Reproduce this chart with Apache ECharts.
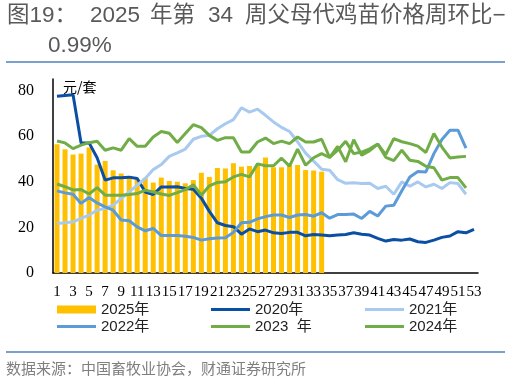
<!DOCTYPE html>
<html><head><meta charset="utf-8">
<script src="https://cdn.jsdelivr.net/npm/echarts@6/dist/echarts.min.js"></script>
<style>html,body{margin:0;padding:0;background:#fff}#c{width:510px;height:383px}</style>
</head><body><div id="c"></div>
<script>
const weeks = ['1','2','3','4','5','6','7','8','9','10','11','12','13','14','15','16','17','18','19','20','21','22','23','24','25','26','27','28','29','30','31','32','33','34','35','36','37','38','39','40','41','42','43','44','45','46','47','48','49','50','51','52','53'];
const y2025 = [56.4,54.2,51.9,52.3,55.0,47.5,49.1,45.0,43.6,41.7,41.0,41.7,39.6,41.8,40.3,40.0,39.3,40.7,43.9,42.1,46.0,45.8,48.1,46.6,46.9,47.3,50.6,46.3,46.3,47.4,47.3,45.1,44.9,44.4];
const y2020 = [77.4,77.8,78.1,57.0,57.0,50.5,40.7,41.7,41.7,42.0,41.4,35.5,34.4,37.7,37.7,37.8,37.0,36.7,32.8,27.0,22.0,20.8,20.3,17.0,19.3,18.1,18.8,17.6,17.3,17.8,17.8,16.3,16.9,16.6,16.3,16.6,16.9,17.6,17.0,16.6,15.2,14.0,14.7,14.4,14.9,13.7,13.4,14.4,15.6,16.2,18.1,17.6,19.1];
const y2021 = [21.7,22.0,22.4,23.9,25.4,27.5,28.3,29.7,32.6,35.5,38.5,41.4,45.3,47.5,51.1,52.6,54.3,58.6,59.9,60.3,63.2,65.4,67.2,72.4,70.5,71.8,69.1,66.2,63.8,62.0,57.5,52.5,49.0,45.5,45.0,40.9,39.3,39.5,39.2,39.3,37.0,38.0,34.5,39.9,38.0,39.9,37.7,38.9,37.0,39.6,39.2,34.5,null];
const y2022 = [36.0,35.1,34.5,30.5,33.1,30.7,29.0,27.5,23.2,22.9,20.2,18.5,19.5,16.4,16.4,16.4,16.1,15.6,14.4,15.0,15.3,15.4,17.8,22.0,22.2,23.7,24.7,25.4,25.4,24.3,25.4,25.6,24.9,26.4,24.0,25.6,25.6,25.8,23.9,27.0,25.0,29.3,29.7,36.0,42.1,44.5,44.3,52.3,58.5,62.5,62.6,54.7,null];
const y2023 = [57.8,57.0,54.5,56.0,57.1,57.7,53.8,54.8,53.8,58.9,55.5,55.5,59.6,62.0,61.2,57.2,61.1,65.0,63.7,60.3,58.1,59.3,59.3,53.0,53.0,57.4,59.1,56.7,57.8,56.7,59.6,57.4,57.4,58.6,50.6,55.5,48.7,58.4,51.6,53.6,56.5,50.7,49.2,53.8,49.4,48.9,46.8,46.1,40.7,41.8,41.8,37.3,null];
const y2024 = [39.0,37.8,36.4,36.6,34.6,37.4,34.1,34.1,34.1,34.4,34.8,36.3,35.5,34.6,34.0,35.2,36.5,38.7,34.1,38.2,39.7,40.0,42.1,43.2,42.1,47.8,47.0,47.0,50.3,46.8,54.3,47.2,50.5,52.3,50.6,53.8,57.7,52.3,53.0,54.4,56.5,51.9,58.9,57.5,56.7,55.6,52.8,61.1,55.2,50.4,50.8,51.1,null];
const seriesNames = ['2025年','2020年','2021年','2022年','2023  年','2024年'];
const colors = ['#FFC000','#0A4FA3','#A9CAF0','#5B9BD8','#70AD47','#70AD47'];

const chart = echarts.init(document.getElementById('c'), null, {renderer:'canvas'});
const lineS = (i, data) => ({
  name: seriesNames[i], type:'line', data: data, symbol:'none', showSymbol:false,
  connectNulls:false, lineStyle:{width:3, color:colors[i]}, itemStyle:{color:colors[i]}, z: 3
});
const legPos = [[57,302],[211,302],[365,302],[57,319],[211,319],[365,319]];
const legends = seriesNames.map((n,i)=>({
  data:[n], left:legPos[i][0], top:legPos[i][1], padding:0, icon:'rect',
  itemWidth:39, itemHeight: i===0?8:3,
  textStyle:{fontFamily:'Liberation Sans, Noto Sans CJK SC', fontSize:15, color:'#222', padding:[0,0,0,0]},
  selectedMode:false
}));
const tf = '22.5px "Liberation Sans","Noto Sans CJK SC"';
chart.setOption({
  animation:false,
  grid:{left:53, right:32, top:79, bottom:110, containLabel:false},
  legend: legends,
  xAxis:{type:'category', data:weeks, boundaryGap:true,
    axisLine:{lineStyle:{color:'#000', width:1.5}}, axisTick:{show:false},
    axisLabel:{interval:1, color:'#000', fontFamily:'Liberation Serif', fontSize:15, margin:12}},
  yAxis:{type:'value', min:0, max:85, interval:20, splitLine:{show:false},
    axisLine:{show:true, lineStyle:{color:'#000', width:1.5}}, axisTick:{show:false},
    axisLabel:{showMaxLabel:false, color:'#000', fontFamily:'Liberation Serif', fontSize:16, margin:19}},
  series:[
    {name:seriesNames[0], type:'bar', data:y2025, barWidth:5, itemStyle:{color:colors[0]}, z:2},
    lineS(1,y2020), lineS(2,y2021), lineS(3,y2022), lineS(4,y2023), lineS(5,y2024)
  ],
  graphic:[
    {type:'text', left:7, top:5, style:{text:'图19：', font:tf, fill:'#595959'}},
    {type:'text', left:90, top:5, style:{text:'2025', font:tf, fill:'#595959'}},
    {type:'text', left:150, top:5, style:{text:'年第', font:tf, fill:'#595959'}},
    {type:'text', left:208, top:5, style:{text:'34', font:tf, fill:'#595959'}},
    {type:'text', left:245, top:5, style:{text:'周父母代鸡苗价格周环比−', font:tf, fill:'#595959'}},
    {type:'text', left:48, top:35, style:{text:'0.99%', font:tf, fill:'#595959'}},
    {type:'line', shape:{x1:6,y1:62,x2:505,y2:62}, style:{stroke:'#4F81BD', lineWidth:1.5}},
    {type:'text', left:63, top:80, style:{text:'元/套', font:'14px "Noto Sans CJK SC"', fill:'#000'}},
    {type:'line', shape:{x1:6,y1:352,x2:505,y2:352}, style:{stroke:'#4F81BD', lineWidth:1.5}},
    {type:'text', left:6, top:361, style:{text:'数据来源：中国畜牧业协会，财通证券研究所', font:'15px "Noto Sans CJK SC"', fill:'#7F7F7F'}}
  ]
});
</script></body></html>
